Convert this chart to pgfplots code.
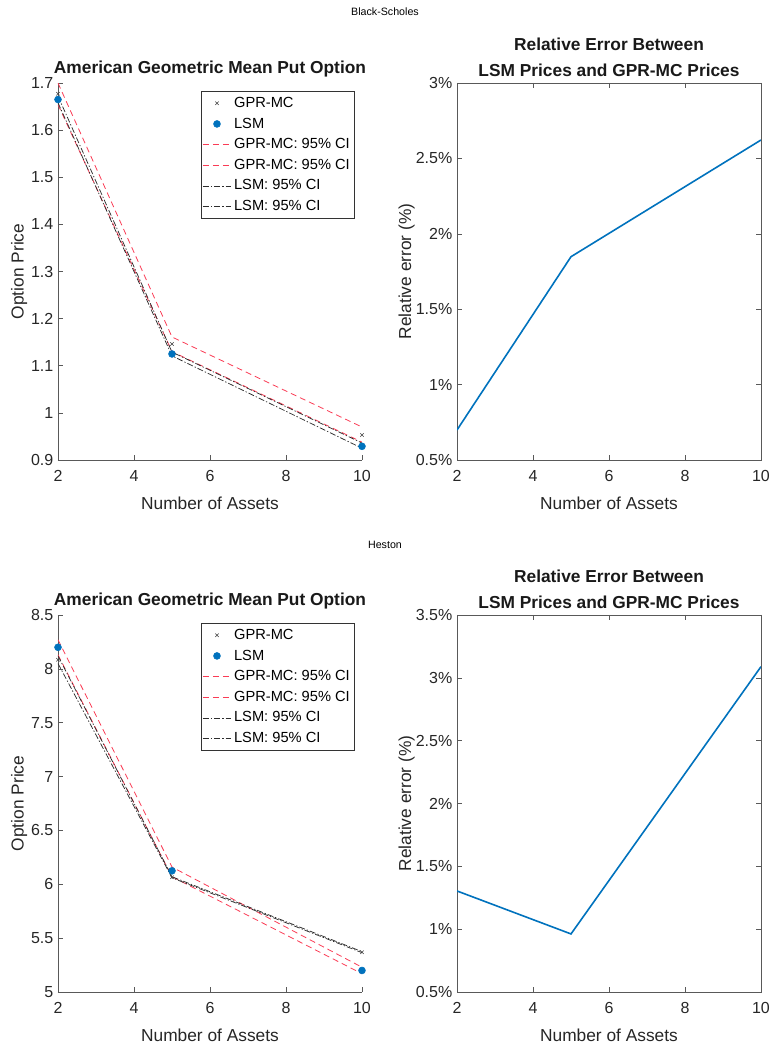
\documentclass[border=0pt]{standalone}
\usepackage{fontspec}
\setmainfont{Liberation Sans}
\usepackage{pgfplots}
\pgfplotsset{compat=1.18}
\definecolor{mblue}{rgb}{0,0.447,0.741}
\definecolor{mred}{RGB}{250,60,85}
\definecolor{mgray}{RGB}{45,45,45}
\begin{document}
\begin{tikzpicture}
\useasboundingbox (0,0) rectangle (576.75pt,787.5pt);
\pgfplotsset{
 base/.style={scale only axis, width=228pt, height=282.75pt, xmin=2, xmax=10,
   xtick={2,4,6,8,10}, tick align=inside, major tick length=3.5pt,
   axis line style={black!65}, every tick/.style={black!65},
   tick label style={font=\fontsize{12}{14}\selectfont, text=black!85},
   xticklabel style={yshift=-4pt},
   /pgf/number format/assume math mode=true,
   label style={font=\fontsize{13}{15}\selectfont, text=black!85},
   xlabel style={yshift=-5pt},
   title style={font=\bfseries\fontsize{13}{19.5}\selectfont, align=center, text=black!90, yshift=-5pt},
   xlabel={Number of Assets},
   legend image code/.code={\draw[mark repeat=2,mark phase=2,##1] plot coordinates {(0cm,0cm) (0.37cm,0cm) (0.74cm,0cm)};}},
 leftax/.style={base, axis x line*=bottom, axis y line*=left, ylabel={Option Price},
   ylabel style={yshift=-4pt},
   legend style={at={(0.974,0.979)}, anchor=north east, draw=black!80, fill=white,
     font=\fontsize{11}{13}\selectfont, inner xsep=1pt, inner ysep=2.5pt, row sep=2.3pt},
   legend cell align=left},
 rightax/.style={base, ylabel={Relative error (\%)}, ylabel style={yshift=-6pt}},
 gpr/.style={only marks, mark=x, mark size=1.8pt, black!75},
 lsm/.style={only marks, mark=*, mark size=2.6pt, draw=mblue, fill=mblue},
 rci/.style={mred, line width=0.6pt, dash pattern=on 4.5pt off 3pt},
 lci/.style={mgray, line width=0.55pt, dash pattern=on 4.5pt off 1.5pt on 1pt off 1.5pt},
}
\node[font=\fontsize{8}{10}\selectfont] at (288.75pt,778.5pt) {Black-Scholes};
\node[font=\fontsize{8}{10}\selectfont] at (288.75pt,378.75pt) {Heston};

% Top left
\begin{axis}[leftax, at={(43.5pt,442.5pt)}, anchor=south west, ymin=0.9, ymax=1.7,
  ytick={0.9,1.0,1.1,1.2,1.3,1.4,1.5,1.6,1.7},
  title={American Geometric Mean Put Option}]
\addplot[gpr] coordinates {(2,1.677) (5,1.146) (10,0.953)};
\addlegendentry{GPR-MC}
\addplot[lsm] coordinates {(2,1.665) (5,1.125) (10,0.929)};
\addlegendentry{LSM}
\addplot[rci] coordinates {(2,1.700) (5,1.161) (10,0.970)};
\addlegendentry{GPR-MC: 95\% CI}
\addplot[rci] coordinates {(2,1.654) (5,1.130) (10,0.938)};
\addlegendentry{GPR-MC: 95\% CI}
\addplot[lci] coordinates {(2,1.672) (5,1.129) (10,0.936)};
\addlegendentry{LSM: 95\% CI}
\addplot[lci] coordinates {(2,1.658) (5,1.121) (10,0.925)};
\addlegendentry{LSM: 95\% CI}
\end{axis}

% Top right
\begin{axis}[rightax, at={(342.75pt,442.5pt)}, anchor=south west, ymin=0.5, ymax=3,
  ytick={0.5,1,1.5,2,2.5,3}, yticklabels={0.5\%,1\%,1.5\%,2\%,2.5\%,3\%},
  title={Relative Error Between\\LSM Prices and GPR-MC Prices}]
\addplot[mblue, line width=1.2pt] coordinates {(2,0.699) (5,1.848) (10,2.622)};
\end{axis}

% Bottom left
\begin{axis}[leftax, at={(43.5pt,43.5pt)}, anchor=south west, ymin=5, ymax=8.5,
  ytick={5,5.5,6,6.5,7,7.5,8,8.5},
  title={American Geometric Mean Put Option}]
\addplot[gpr] coordinates {(2,8.085) (5,6.065) (10,5.37)};
\addlegendentry{GPR-MC}
\addplot[lsm] coordinates {(2,8.20) (5,6.125) (10,5.20)};
\addlegendentry{LSM}
\addplot[rci] coordinates {(2,8.27) (5,6.16) (10,5.23)};
\addlegendentry{GPR-MC: 95\% CI}
\addplot[rci] coordinates {(2,8.13) (5,6.07) (10,5.17)};
\addlegendentry{GPR-MC: 95\% CI}
\addplot[lci] coordinates {(2,8.12) (5,6.07) (10,5.375)};
\addlegendentry{LSM: 95\% CI}
\addplot[lci] coordinates {(2,8.05) (5,6.06) (10,5.365)};
\addlegendentry{LSM: 95\% CI}
\end{axis}

% Bottom right
\begin{axis}[rightax, at={(342.75pt,43.5pt)}, anchor=south west, ymin=0.5, ymax=3.5,
  ytick={0.5,1,1.5,2,2.5,3,3.5}, yticklabels={0.5\%,1\%,1.5\%,2\%,2.5\%,3\%,3.5\%},
  title={Relative Error Between\\LSM Prices and GPR-MC Prices}]
\addplot[mblue, line width=1.2pt] coordinates {(2,1.304) (5,0.962) (10,3.089)};
\end{axis}
\end{tikzpicture}
\end{document}
